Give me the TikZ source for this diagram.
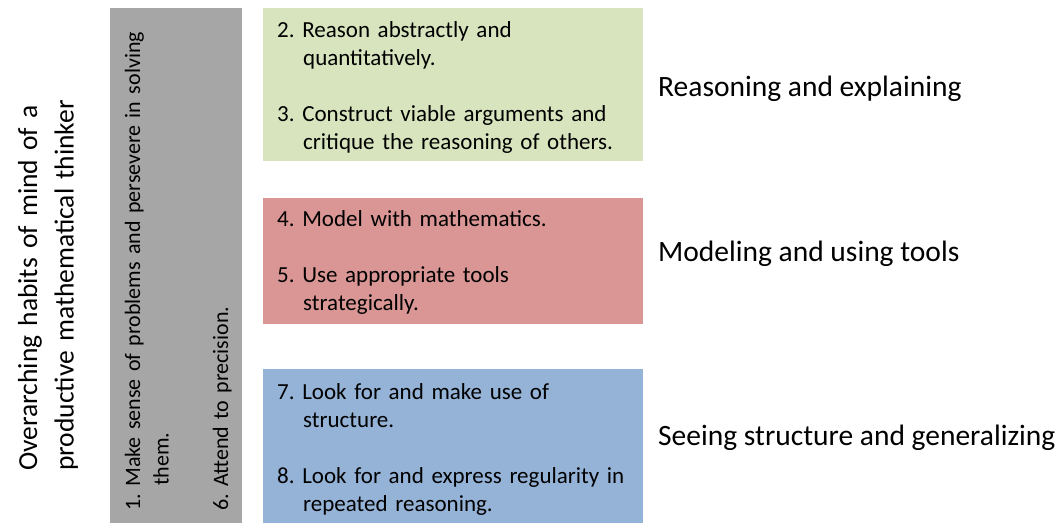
\documentclass[tikz,border=0pt]{standalone}
\usepackage{fontspec}
\setmainfont{Carlito}
\frenchspacing
\definecolor{graypanel}{HTML}{A6A6A6}
\definecolor{greenpanel}{HTML}{D7E4BD}
\definecolor{redpanel}{HTML}{D99694}
\definecolor{bluepanel}{HTML}{95B3D7}
\begin{document}
\begin{tikzpicture}[x=1pt, y=-1pt,
    panel/.style={draw=none, inner sep=0pt, anchor=north west},
    itemtext/.style={inner sep=0pt, anchor=base west, text width=360pt, align=left,
      font=\fontsize{23}{28}\selectfont},
    sidelabel/.style={inner sep=0pt, anchor=base west, font=\fontsize{29.5}{36}\selectfont}]
  \useasboundingbox (0,0) rectangle (1061,523);
  % panels
  \node [panel, fill=graypanel, minimum width=132pt, minimum height=515pt] (habitbox) at (110,8) {};
  \node [panel, fill=greenpanel, minimum width=380pt, minimum height=153pt] (reasonbox) at (263,8) {};
  \node [panel, fill=redpanel, minimum width=380pt, minimum height=126pt] (modelbox) at (263,198) {};
  \node [panel, fill=bluepanel, minimum width=380pt, minimum height=154pt] (structbox) at (263,369) {};
  % rotated titles
  \node [inner sep=0pt, rotate=90, anchor=base west, text width=420pt, align=left,
    font=\fontsize{27.5}{36.5}\selectfont] (habits) at (37,471)
    {Overarching habits of mind of a\\productive mathematical thinker};
  \node [itemtext, rotate=90, text width=520pt, font=\fontsize{22}{28.5}\selectfont] (habititems) at (140,511)
    {1. Make sense of problems and persevere in solving\\\hspace*{25pt}them.\\[31pt]6. Attend to precision.};
  % practices
  \node [itemtext] (reasonitems) at (277,37)
    {2. Reason abstractly and\\\hspace*{26pt}quantitatively.\\[28pt]3. Construct viable arguments and\\\hspace*{26pt}critique the reasoning of others.};
  \node [itemtext] (modelitems) at (277,226)
    {4. Model with mathematics.\\[28pt]5. Use appropriate tools\\\hspace*{26pt}strategically.};
  \node [itemtext] (structitems) at (277,399)
    {7. Look for and make use of\\\hspace*{26pt}structure.\\[28pt]8. Look for and express regularity in\\\hspace*{26pt}repeated reasoning.};
  % groups
  \node [sidelabel] (reasonlabel) at (658,96) {Reasoning and explaining};
  \node [sidelabel] (modellabel) at (658,261) {Modeling and using tools};
  \node [sidelabel] (structlabel) at (658,445) {Seeing structure and generalizing};
\end{tikzpicture}
\end{document}
